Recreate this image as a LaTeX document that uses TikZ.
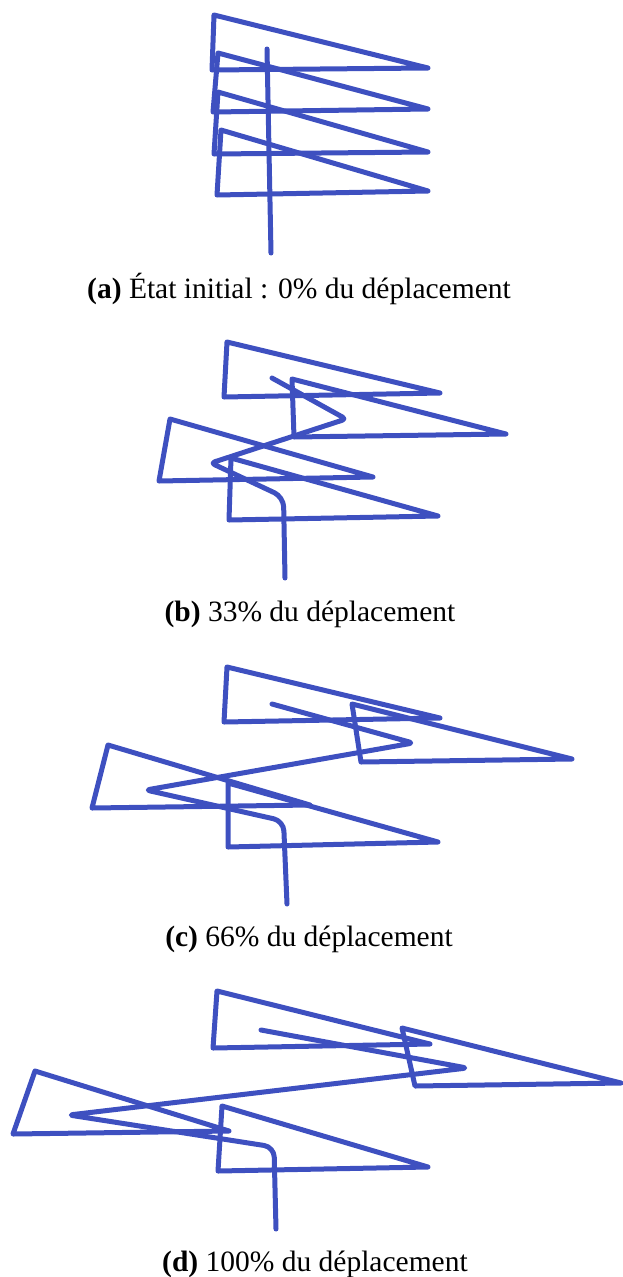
\documentclass[tikz,border=0pt]{standalone}
\usepackage{fontspec}
\setmainfont{Liberation Serif}
\definecolor{inkblue}{RGB}{62,80,192}
\begin{document}
\begin{tikzpicture}[x=1pt,y=-1pt,
  ink/.style={draw=inkblue,line width=5pt,line join=round,line cap=round},
  stemline/.style={ink},
  captext/.style={anchor=base,inner sep=0pt,font=\fontsize{29.5}{34}\selectfont}]
\useasboundingbox (0,0) rectangle (622,1277);
% ---------- (a)
\draw[ink] (214,15) -- (428,68) -- (212,70) -- cycle;
\draw[ink] (218,53) -- (428,109) -- (213,112) -- cycle;
\draw[ink] (218,92) -- (428,152) -- (214,154) -- cycle;
\draw[ink] (221,130) -- (428,191) -- (217,195) -- cycle;
\draw[stemline] (271,253) -- (267,49);
\node[captext] (capa) at (299,298) {\textbf{(a)} État initial : 0\% du déplacement};
% ---------- (b)
\draw[ink] (227,342) -- (440,393) -- (224,397) -- cycle;
\draw[ink] (292,379) -- (506,434) -- (294,437) -- cycle;
\draw[ink] (170,419) -- (373,477) -- (159,481) -- cycle;
\draw[ink] (231,458) -- (438,516) -- (229,520) -- cycle;
\draw[stemline] (285,578) [rounded corners=10pt] -- (283.5,497) [rounded corners=4pt] -- (211,463) -- (346,419) -- (272,378);
\node[captext] (capb) at (310,621) {\textbf{(b)} 33\% du déplacement};
% ---------- (c)
\draw[ink] (227,667) -- (440,718) -- (224,722) -- cycle;
\draw[ink] (352,704) -- (572,759) -- (361,762) -- cycle;
\draw[ink] (108,745) -- (310,805) -- (92,808) -- cycle;
\draw[ink] (228,783) -- (438,842) -- (228,847) -- cycle;
\draw[stemline] (287,904) [rounded corners=10pt] -- (283.5,821) [rounded corners=4pt] -- (146,790) -- (413,743) -- (272,704);
\node[captext] (capc) at (309,946) {\textbf{(c)} 66\% du déplacement};
% ---------- (d)
\draw[ink] (217,991) -- (430,1044) -- (213,1048) -- cycle;
\draw[ink] (402,1028) -- (621,1083) -- (415,1086) -- cycle;
\draw[ink] (35,1071) -- (229,1131) -- (13,1134) -- cycle;
\draw[ink] (222,1106) -- (428,1167) -- (218,1171) -- cycle;
\draw[stemline] (276,1229) [rounded corners=10pt] -- (274,1147) [rounded corners=4pt] -- (69,1115) -- (467,1068) -- (261,1030);
\node[captext] (capd) at (315,1271) {\textbf{(d)} 100\% du déplacement};
\end{tikzpicture}
\end{document}
